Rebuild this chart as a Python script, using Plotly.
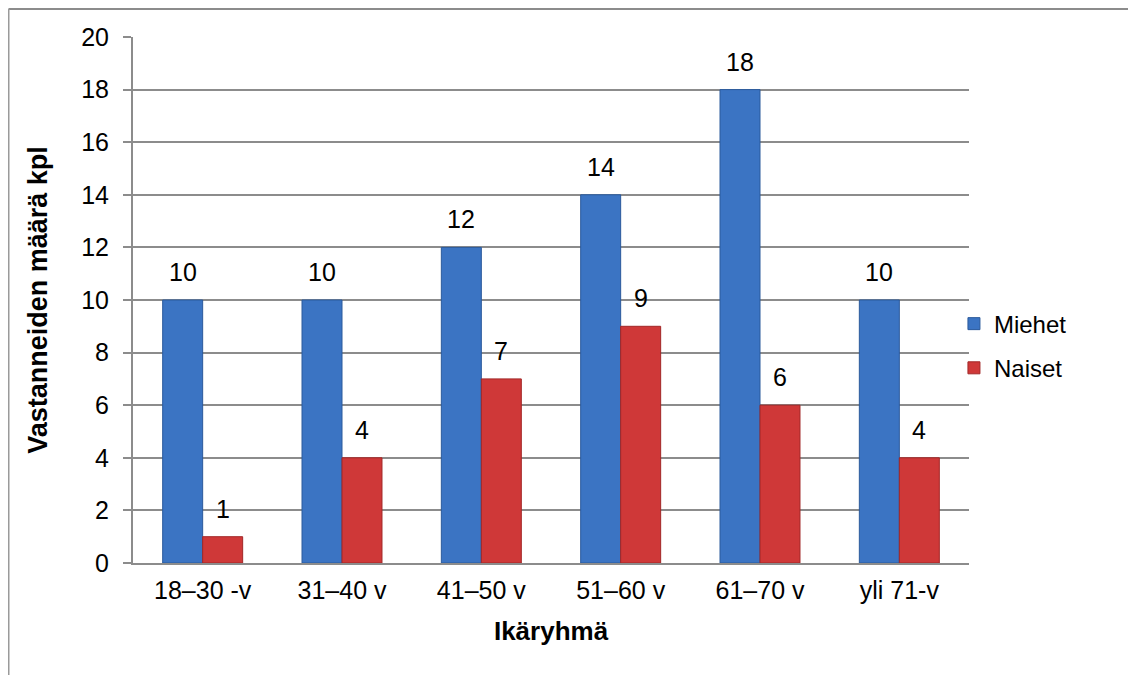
import plotly.graph_objects as go

categories = ["18–30 -v", "31–40 v", "41–50 v", "51–60 v", "61–70 v", "yli 71-v"]
miehet = [10, 10, 12, 14, 18, 10]
naiset = [1, 4, 7, 9, 6, 4]

font_family = "Liberation Sans, Arial, sans-serif"

W, H = 1128, 667
ML, MR, MT, MB = 125, 167, 29, 112
PW, PH = W - ML - MR, H - MT - MB
BARGAP = 0.426
bar_px = PW / len(categories) * (1 - BARGAP) / 2

fig = go.Figure()
fig.add_trace(go.Bar(
    name="Miehet", x=categories, y=miehet, legendgroup="m",
    marker=dict(color="#3B74C3", line=dict(color="#2B5A9C", width=1)),
))
fig.add_trace(go.Bar(
    name="Naiset", x=categories, y=naiset, legendgroup="n",
    marker=dict(color="#CF3838", line=dict(color="#A22727", width=1)),
))

annotations = []
for series, sign in ((miehet, -1), (naiset, 1)):
    for c, v in zip(categories, series):
        annotations.append(dict(
            x=c, y=v, xref="x", yref="y", text=str(v), showarrow=False,
            xanchor="center", yanchor="bottom", xshift=sign * bar_px / 2, yshift=12,
            font=dict(size=25, color="#000000", family=font_family),
        ))

fig.update_layout(
    width=W, height=H,
    margin=dict(l=ML, r=MR, t=MT, b=MB),
    paper_bgcolor="white", plot_bgcolor="white",
    barmode="group", bargap=BARGAP, bargroupgap=0,
    font=dict(family=font_family, size=25, color="#000000"),
    showlegend=True,
    legend=dict(x=0.982, xanchor="left", y=0.4125, yanchor="middle",
                font=dict(size=24), itemwidth=30, traceorder="grouped",
                tracegroupgap=10, bgcolor="rgba(0,0,0,0)"),
    xaxis=dict(
        title=dict(text="<b>Ikäryhmä</b>", font=dict(size=26), standoff=19),
        showline=True, linecolor="#8C8C8C", linewidth=2,
        ticks="", tickfont=dict(size=25), showgrid=False, ticklabelstandoff=4,
    ),
    yaxis=dict(
        title=dict(text="<b>Vastanneiden määrä kpl</b>", font=dict(size=27), standoff=26),
        range=[0, 20], dtick=2, showline=True, linecolor="#8C8C8C", linewidth=2,
        ticks="outside", ticklen=8, tickcolor="#8C8C8C", tickwidth=2,
        showgrid=True, gridcolor="#8C8C8C", gridwidth=2,
        tickfont=dict(size=25), zeroline=False, ticklabelstandoff=9,
    ),
    annotations=annotations,
    shapes=[
        dict(type="line", xref="paper", yref="paper",
             x0=-(ML - 0.5) / PW, x1=(W - 1 - ML) / PW, y0=1 + (MT - 1) / PH, y1=1 + (MT - 1) / PH,
             line=dict(color="#8C8C8C", width=2)),
        dict(type="line", xref="paper", yref="paper",
             x0=-(ML - 0.5) / PW, x1=-(ML - 0.5) / PW, y0=1 + (MT - 1) / PH, y1=-MB / PH,
             line=dict(color="#9A9A9A", width=2)),
        dict(type="line", xref="paper", yref="paper",
             x0=(W - 1 - ML) / PW, x1=(W - 1 - ML) / PW, y0=1 + (MT - 1) / PH, y1=-MB / PH,
             line=dict(color="#DDDDDD", width=2)),
    ],
)

fig.write_html("out.html")
